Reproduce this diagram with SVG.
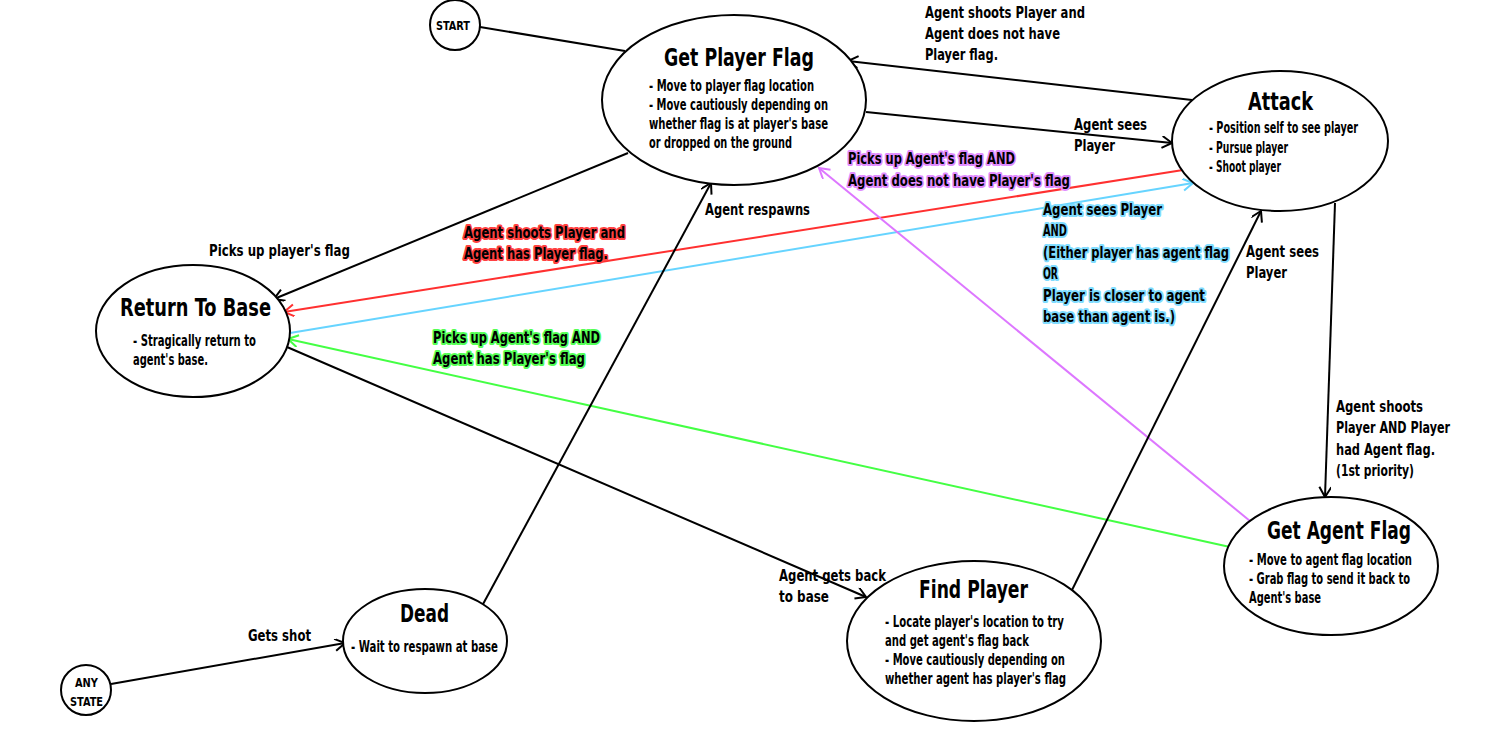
<svg xmlns="http://www.w3.org/2000/svg" width="1500" height="750" viewBox="0 0 1500 750">
<style>
text{font-family:"DejaVu Sans Condensed","DejaVu Sans","Liberation Sans",sans-serif;font-stretch:condensed;fill:#000}
.t{font-size:24px;font-weight:bold}
.b{font-size:15px;font-weight:bold}
.l{font-size:15.5px;font-weight:bold}
.s{font-size:13px;font-weight:bold}
.n{fill:#fff;stroke:#000;stroke-width:2}
.c{fill:none;stroke-width:2}
.k{stroke:#000}
.red{stroke:#ff3030}
.cy{stroke:#66d4ff}
.gr{stroke:#44ff44}
.vi{stroke:#dd77ff}
.g{stroke-width:4;stroke-linejoin:round;paint-order:stroke}
.gred{stroke:#ff4040}
.gcy{stroke:#7fdcff}
.ggr{stroke:#55ff55}
.gvi{stroke:#e18cff}
</style>
<defs>
<marker id="ak" markerUnits="userSpaceOnUse" markerWidth="14" markerHeight="14" refX="11" refY="6" orient="auto"><path d="M1,0 L11,6 L1,12" fill="none" stroke="#000" stroke-width="2"/></marker>
<marker id="ar" markerUnits="userSpaceOnUse" markerWidth="14" markerHeight="14" refX="11" refY="6" orient="auto"><path d="M1,0 L11,6 L1,12" fill="none" stroke="#ff3030" stroke-width="2"/></marker>
<marker id="ac" markerUnits="userSpaceOnUse" markerWidth="14" markerHeight="14" refX="11" refY="6" orient="auto"><path d="M1,0 L11,6 L1,12" fill="none" stroke="#66d4ff" stroke-width="2"/></marker>
<marker id="ag" markerUnits="userSpaceOnUse" markerWidth="14" markerHeight="14" refX="11" refY="6" orient="auto"><path d="M1,0 L11,6 L1,12" fill="none" stroke="#44ff44" stroke-width="2"/></marker>
<marker id="av" markerUnits="userSpaceOnUse" markerWidth="14" markerHeight="14" refX="11" refY="6" orient="auto"><path d="M1,0 L11,6 L1,12" fill="none" stroke="#dd77ff" stroke-width="2"/></marker>
</defs>
<rect width="1500" height="750" fill="#fff"/>

<g id="connectors">
<path class="c k" d="M480,27 L625,51"/>
<path class="c k" d="M1192,100 L848,61" marker-end="url(#ak)"/>
<path class="c k" d="M866,112 L1172,143" marker-end="url(#ak)"/>
<path class="c k" d="M628,153 L274,299" marker-end="url(#ak)"/>
<path class="c red" d="M1183,170 L284,312" marker-end="url(#ar)"/>
<path class="c cy" d="M290,333 L1193,183" marker-end="url(#ac)"/>
<path class="c gr" d="M1230,547 L288,339" marker-end="url(#ag)"/>
<path class="c vi" d="M1250,521 L819,168" marker-end="url(#av)"/>
<path class="c k" d="M482,606 L711,183" marker-end="url(#ak)"/>
<path class="c k" d="M287,347 L866,597" marker-end="url(#ak)"/>
<path class="c k" d="M1072,590 L1261,211" marker-end="url(#ak)"/>
<path class="c k" d="M1335,203 L1325,497" marker-end="url(#ak)"/>
<path class="c k" d="M111,684 L345,643" marker-end="url(#ak)"/>
</g>

<g id="start">
<circle class="n" cx="455" cy="25" r="25"/>
<text class="s" x="436" y="30" textLength="34" lengthAdjust="spacingAndGlyphs">START</text>
</g>

<g id="any-state">
<circle class="n" cx="86" cy="690" r="25"/>
<text class="s" x="75" y="687" textLength="23" lengthAdjust="spacingAndGlyphs">ANY</text>
<text class="s" x="70" y="706" textLength="33" lengthAdjust="spacingAndGlyphs">STATE</text>
</g>

<g id="get-player-flag">
<ellipse class="n" cx="734" cy="100" rx="132" ry="85"/>
<text class="t" x="664" y="66" textLength="150" lengthAdjust="spacingAndGlyphs">Get Player Flag</text>
<text class="b" x="649" y="91" textLength="165" lengthAdjust="spacingAndGlyphs">- Move to player flag location</text>
<text class="b" x="649" y="110" textLength="179" lengthAdjust="spacingAndGlyphs">- Move cautiously depending on</text>
<text class="b" x="649" y="129" textLength="179" lengthAdjust="spacingAndGlyphs">whether flag is at player's base</text>
<text class="b" x="649" y="148" textLength="143" lengthAdjust="spacingAndGlyphs">or dropped on the ground</text>
</g>

<g id="attack">
<ellipse class="n" cx="1280" cy="141" rx="108" ry="70"/>
<text class="t" x="1248" y="110" textLength="65" lengthAdjust="spacingAndGlyphs">Attack</text>
<text class="b" x="1209" y="133" textLength="149" lengthAdjust="spacingAndGlyphs">- Position self to see player</text>
<text class="b" x="1209" y="153" textLength="79" lengthAdjust="spacingAndGlyphs">- Pursue player</text>
<text class="b" x="1209" y="172" textLength="72" lengthAdjust="spacingAndGlyphs">- Shoot player</text>
</g>

<g id="return-to-base">
<ellipse class="n" cx="193" cy="331" rx="97" ry="66"/>
<text class="t" x="120" y="316" textLength="151" lengthAdjust="spacingAndGlyphs">Return To Base</text>
<text class="b" x="133" y="346" textLength="123" lengthAdjust="spacingAndGlyphs">- Stragically return to</text>
<text class="b" x="133" y="365" textLength="75" lengthAdjust="spacingAndGlyphs">agent's base.</text>
</g>

<g id="dead">
<ellipse class="n" cx="425" cy="641" rx="82" ry="52"/>
<text class="t" x="400" y="622" textLength="49" lengthAdjust="spacingAndGlyphs">Dead</text>
<text class="b" x="351" y="652" textLength="147" lengthAdjust="spacingAndGlyphs">- Wait to respawn at base</text>
</g>

<g id="find-player">
<ellipse class="n" cx="974" cy="641" rx="127" ry="80"/>
<text class="t" x="919" y="598" textLength="109" lengthAdjust="spacingAndGlyphs">Find Player</text>
<text class="b" x="885" y="627" textLength="179" lengthAdjust="spacingAndGlyphs">- Locate player's location to try</text>
<text class="b" x="885" y="646" textLength="144" lengthAdjust="spacingAndGlyphs">and get agent's flag back</text>
<text class="b" x="885" y="665" textLength="180" lengthAdjust="spacingAndGlyphs">- Move cautiously depending on</text>
<text class="b" x="885" y="684" textLength="181" lengthAdjust="spacingAndGlyphs">whether agent has player's flag</text>
</g>

<g id="get-agent-flag">
<ellipse class="n" cx="1331" cy="566" rx="107" ry="69"/>
<text class="t" x="1267" y="539" textLength="144" lengthAdjust="spacingAndGlyphs">Get Agent Flag</text>
<text class="b" x="1249" y="565" textLength="163" lengthAdjust="spacingAndGlyphs">- Move to agent flag location</text>
<text class="b" x="1249" y="584" textLength="161" lengthAdjust="spacingAndGlyphs">- Grab flag to send it back to</text>
<text class="b" x="1249" y="603" textLength="72" lengthAdjust="spacingAndGlyphs">Agent's base</text>
</g>

<g id="labels">
<text class="l" x="925" y="18" textLength="160" lengthAdjust="spacingAndGlyphs">Agent shoots Player and</text>
<text class="l" x="925" y="39" textLength="135" lengthAdjust="spacingAndGlyphs">Agent does not have</text>
<text class="l" x="925" y="60" textLength="73" lengthAdjust="spacingAndGlyphs">Player flag.</text>
<text class="l" x="1074" y="130" textLength="73" lengthAdjust="spacingAndGlyphs">Agent sees</text>
<text class="l" x="1074" y="151" textLength="41" lengthAdjust="spacingAndGlyphs">Player</text>
<text class="l" x="209" y="256" textLength="141" lengthAdjust="spacingAndGlyphs">Picks up player's flag</text>
<text class="l g gred" x="464" y="238" textLength="161" lengthAdjust="spacingAndGlyphs">Agent shoots Player and</text>
<text class="l g gred" x="464" y="259" textLength="144" lengthAdjust="spacingAndGlyphs">Agent has Player flag.</text>
<text class="l g gcy" x="1043" y="215" textLength="119" lengthAdjust="spacingAndGlyphs">Agent sees Player</text>
<text class="l g gcy" x="1043" y="236" textLength="24" lengthAdjust="spacingAndGlyphs">AND</text>
<text class="l g gcy" x="1043" y="258" textLength="186" lengthAdjust="spacingAndGlyphs">(Either player has agent flag</text>
<text class="l g gcy" x="1043" y="279" textLength="15" lengthAdjust="spacingAndGlyphs">OR</text>
<text class="l g gcy" x="1043" y="301" textLength="162" lengthAdjust="spacingAndGlyphs">Player is closer to agent</text>
<text class="l g gcy" x="1043" y="322" textLength="132" lengthAdjust="spacingAndGlyphs">base than agent is.)</text>
<text class="l g ggr" x="433" y="343" textLength="167" lengthAdjust="spacingAndGlyphs">Picks up Agent's flag AND</text>
<text class="l g ggr" x="433" y="364" textLength="152" lengthAdjust="spacingAndGlyphs">Agent has Player's flag</text>
<text class="l g gvi" x="848" y="164" textLength="167" lengthAdjust="spacingAndGlyphs">Picks up Agent's flag AND</text>
<text class="l g gvi" x="848" y="186" textLength="222" lengthAdjust="spacingAndGlyphs">Agent does not have Player's flag</text>
<text class="l" x="705" y="215" textLength="105" lengthAdjust="spacingAndGlyphs">Agent respawns</text>
<text class="l" x="779" y="581" textLength="107" lengthAdjust="spacingAndGlyphs">Agent gets back</text>
<text class="l" x="779" y="602" textLength="50" lengthAdjust="spacingAndGlyphs">to base</text>
<text class="l" x="1246" y="257" textLength="73" lengthAdjust="spacingAndGlyphs">Agent sees</text>
<text class="l" x="1246" y="278" textLength="41" lengthAdjust="spacingAndGlyphs">Player</text>
<text class="l" x="1336" y="412" textLength="87" lengthAdjust="spacingAndGlyphs">Agent shoots</text>
<text class="l" x="1336" y="433" textLength="114" lengthAdjust="spacingAndGlyphs">Player AND Player</text>
<text class="l" x="1336" y="455" textLength="99" lengthAdjust="spacingAndGlyphs">had Agent flag.</text>
<text class="l" x="1336" y="476" textLength="78" lengthAdjust="spacingAndGlyphs">(1st priority)</text>
<text class="l" x="248" y="641" textLength="63" lengthAdjust="spacingAndGlyphs">Gets shot</text>
</g>
</svg>
